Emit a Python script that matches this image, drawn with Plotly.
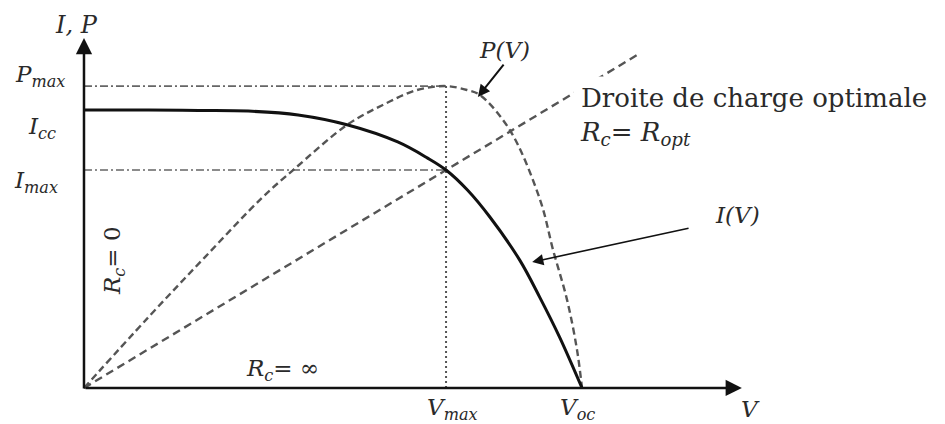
import plotly.graph_objects as go

# ---- data (normalized: V / Voc, I / Icc, P on same scale) ----
V_I = [0.0, 0.13, 0.23, 0.33, 0.43, 0.53, 0.63, 0.69, 0.727, 0.77, 0.815, 0.875, 0.915, 0.955, 1.0]
I_vals = [1.0, 1.0, 0.998, 0.996, 0.982, 0.946, 0.885, 0.827, 0.784, 0.712, 0.615, 0.46, 0.327, 0.183, 0.0]

V_P = [0.0, 0.13, 0.243, 0.359, 0.42, 0.528, 0.60, 0.669, 0.727, 0.769, 0.795, 0.855, 0.916, 0.942, 0.970, 0.990, 1.0]
P_vals = [0.0, 0.256, 0.471, 0.687, 0.784, 0.946, 1.018, 1.072, 1.086, 1.072, 1.054, 0.928, 0.676, 0.496, 0.317, 0.137, 0.0]

Vmax = 0.727
Voc = 1.0
Imax = 0.784
Icc = 1.0
Pmax = 1.086
V_line_end = 1.116   # extent of the optimal load line
V_axis_end = 1.321
I_axis_end = 1.259

FONT = "DejaVu Serif"
TXT = "#2a2a2a"
DASH_COL = "#555"

fig = go.Figure()

# Pmax and Imax dash-dot guides, Vmax dotted guide
fig.add_trace(go.Scatter(x=[0, Vmax], y=[Pmax, Pmax], mode="lines",
                         line=dict(color="#666", width=1.6, dash="8px,3px,2px,3px"), hoverinfo="skip"))
fig.add_trace(go.Scatter(x=[0, Vmax], y=[Imax, Imax], mode="lines",
                         line=dict(color="#666", width=1.6, dash="8px,3px,2px,3px"), hoverinfo="skip"))
fig.add_trace(go.Scatter(x=[Vmax, Vmax], y=[0, Pmax], mode="lines",
                         line=dict(color="#555", width=2, dash="2px,3px"), hoverinfo="skip"))

# optimal load line R = Ropt
slope = Imax / Vmax
fig.add_trace(go.Scatter(x=[0, V_line_end], y=[0, slope * V_line_end], mode="lines",
                         line=dict(color=DASH_COL, width=2.4, dash="8px,5px"), hoverinfo="skip"))

# P(V)
fig.add_trace(go.Scatter(x=V_P, y=P_vals, mode="lines", line_shape="spline",
                         line=dict(color=DASH_COL, width=2.4, dash="7px,4px"), hoverinfo="skip"))

# I(V)
fig.add_trace(go.Scatter(x=V_I, y=I_vals, mode="lines", line_shape="spline",
                         line=dict(color="#111", width=3), hoverinfo="skip"))

ann = []
# axes arrows
ann.append(dict(x=0, y=I_axis_end, ax=0, ay=-0.007, xref="x", yref="y", axref="x", ayref="y",
                text="", showarrow=True, arrowhead=2, arrowsize=1.3, arrowwidth=2.5, arrowcolor="#111"))
ann.append(dict(x=V_axis_end, y=0, ax=0, ay=0, xref="x", yref="y", axref="x", ayref="y",
                text="", showarrow=True, arrowhead=2, arrowsize=1.3, arrowwidth=2.5, arrowcolor="#111"))
# curve pointers
ann.append(dict(x=0.791, y=1.047, ax=0.845, ay=1.169, xref="x", yref="y", axref="x", ayref="y",
                text="", showarrow=True, arrowhead=2, arrowsize=1.2, arrowwidth=2, arrowcolor="#111"))
ann.append(dict(x=0.90, y=0.453, ax=1.217, ay=0.576, xref="x", yref="y", axref="x", ayref="y",
                text="", showarrow=True, arrowhead=2, arrowsize=1.4, arrowwidth=1.6, arrowcolor="#111"))

def label(x, y, text, size=23, angle=0, xanchor="center", **kw):
    d = dict(x=x, y=y, xref="x", yref="y", text=text, showarrow=False, textangle=angle,
             xanchor=xanchor, yanchor="middle", font=dict(family=FONT, size=size, color=TXT))
    d.update(kw)
    ann.append(d)

label(-0.016, 1.305, "<i>I, P</i>", size=24)
label(-0.088, 1.122, "<i>P<sub>max</sub></i>")
label(-0.084, 0.935, "<i>I<sub>cc</sub></i>")
label(-0.096, 0.741, "<i>I<sub>max</sub></i>")
label(0.060, 0.460, "<i>R<sub>c</sub></i>= 0", angle=-90)
label(0.398, 0.065, "<i>R<sub>c</sub></i>= ∞")
label(Vmax + 0.012, -0.076, "<i>V<sub>max</sub></i>")
label(Voc - 0.010, -0.076, "<i>V<sub>oc</sub></i>")
label(1.339, -0.076, "<i>V</i>")
label(0.845, 1.216, "<i>P(V)</i>")
label(1.313, 0.622, "<i>I(V)</i>")
label(0.982, 0.978, "Droite de charge optimale<br><i>R<sub>c</sub></i>= <i>R<sub>opt</sub></i>",
      size=26, xanchor="left", align="left", bgcolor="white", borderpad=6)

# page is drawn with an 8px body offset; ranges compensate so marks land where the reference has them
fig.update_layout(
    width=945, height=424, autosize=False,
    margin=dict(l=0, r=0, t=0, b=0),
    paper_bgcolor="white", plot_bgcolor="white",
    showlegend=False,
    xaxis=dict(range=[-0.1526, 1.7450], visible=False, fixedrange=True),
    yaxis=dict(range=[-0.1583, 1.3669], visible=False, fixedrange=True),
    annotations=ann,
)

fig.write_html("out.html")
